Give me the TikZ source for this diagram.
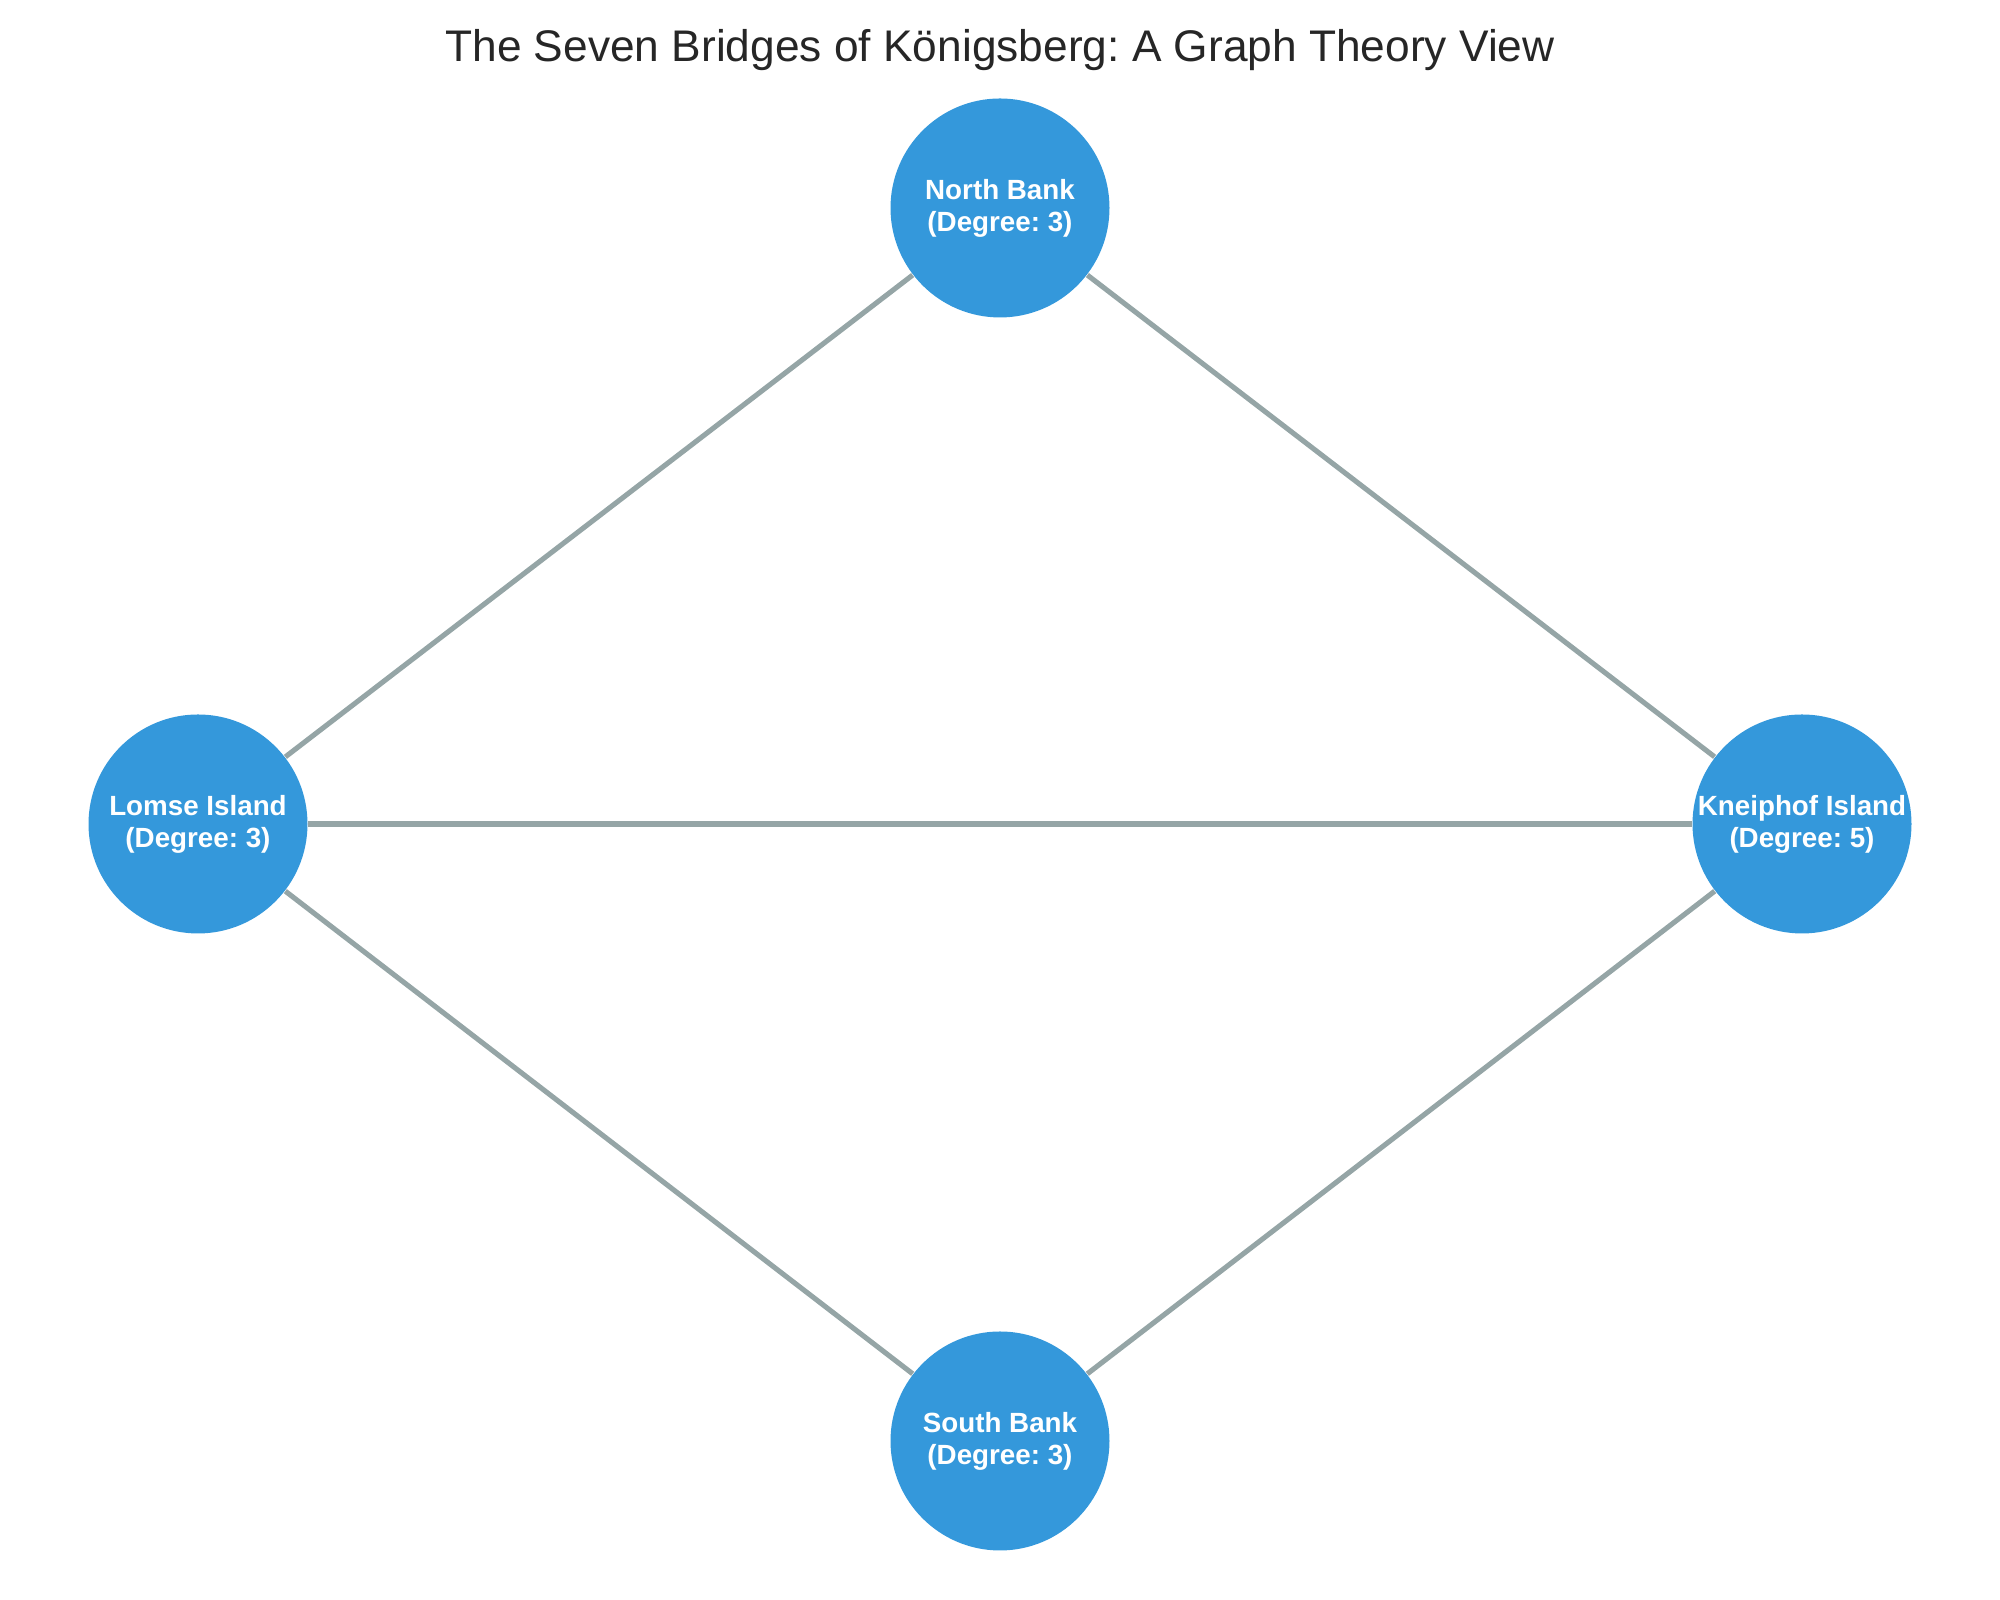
\documentclass[tikz,border=0pt]{standalone}
\usepackage{fontspec}
\setmainfont{Liberation Sans}
\usepackage{tikz}
\definecolor{landblue}{HTML}{3498DB}
\definecolor{bridgegray}{HTML}{95A5A6}
\definecolor{titlegray}{HTML}{262626}
\frenchspacing

\begin{document}
\begin{tikzpicture}[
  land/.style={circle, fill=landblue, draw=none, minimum size=2.19cm, inner sep=0pt,
               font=\fontsize{7.9}{9.1}\selectfont\bfseries, align=center, text=white},
  bridge/.style={line width=1.45pt, color=bridgegray},
  title/.style={font=\fontsize{12.6}{14}\selectfont, text=titlegray}
]
\useasboundingbox (0,0) rectangle (20,16);

\node[title] (ttl) at (10,15.50) {The Seven Bridges of Königsberg: A Graph Theory View};

\node[land] (north) at (10,13.92) {North Bank\\(Degree: 3)};
\node[land] (lomse) at (1.98,7.76) {Lomse Island\\(Degree: 3)};
\node[land] (kneip) at (18.02,7.76) {Kneiphof Island\\(Degree: 5)};
\node[land] (south) at (10,1.59) {South Bank\\(Degree: 3)};

% bridges
\draw[bridge] (north) -- (lomse);
\draw[bridge] (north) -- (kneip);
\draw[bridge] (lomse) -- (kneip);
\draw[bridge] (lomse) -- (south);
\draw[bridge] (south) -- (kneip);

\end{tikzpicture}
\end{document}
